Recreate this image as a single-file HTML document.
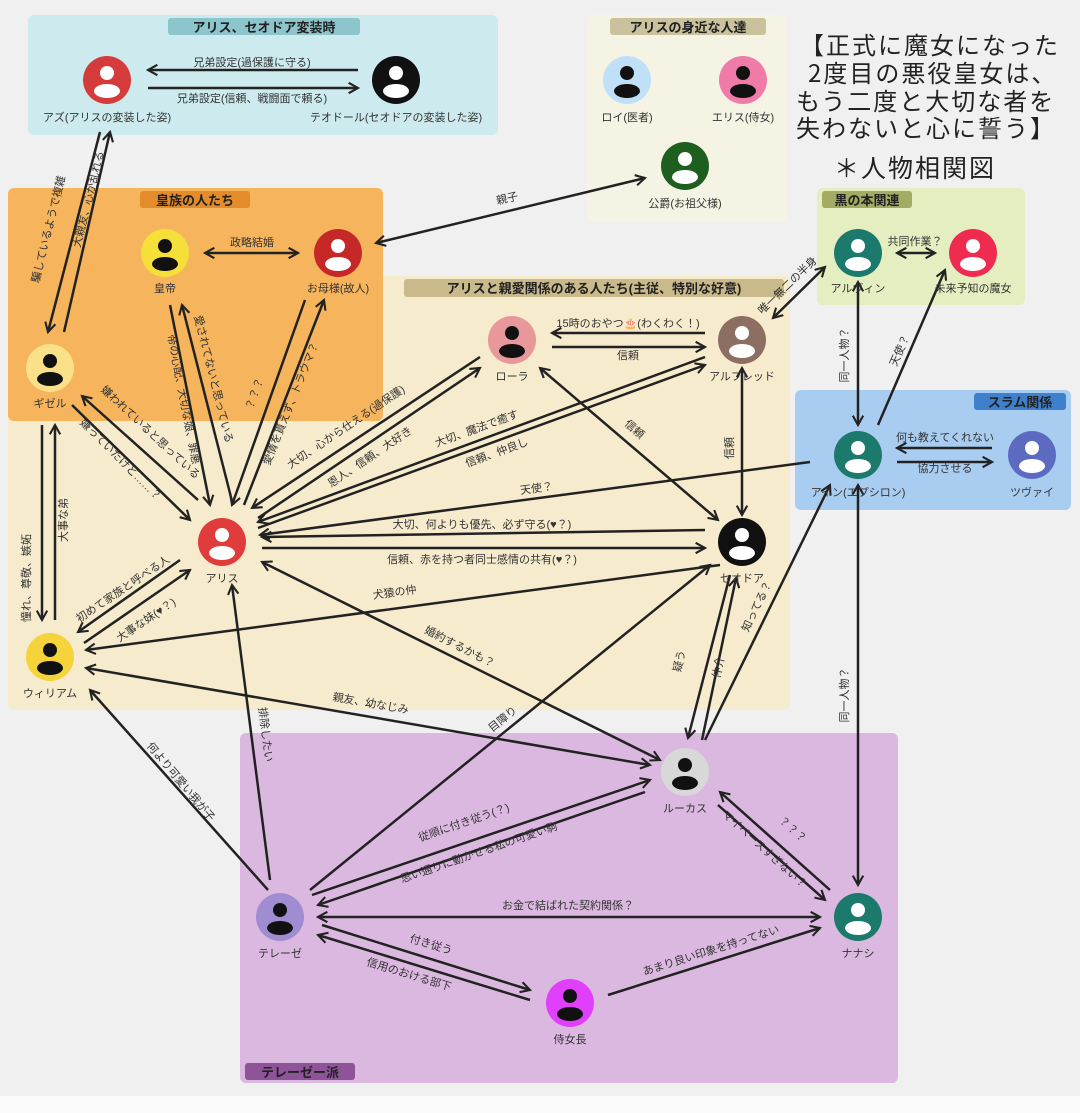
<!DOCTYPE html>
<html><head><meta charset="utf-8"><style>
html,body{margin:0;padding:0;background:#f0f0f0}
svg{display:block;font-family:"Liberation Sans","Noto Sans CJK JP",sans-serif}
.l{font-size:11px;fill:#333;text-anchor:middle}
.n{font-size:11px;fill:#333;text-anchor:middle}
.e{stroke:#222;stroke-width:2.5;fill:none}
.t{font-size:13px;font-weight:bold;fill:#222}
</style></head><body>
<svg width="1080" height="1113" viewBox="0 0 1080 1113" xmlns="http://www.w3.org/2000/svg">
<defs>
<marker id="a" viewBox="0 0 12 12" refX="10" refY="6" markerWidth="5" markerHeight="5" orient="auto-start-reverse" markerUnits="strokeWidth"><path d="M1,1 L10,6 L1,11" fill="none" stroke="#222" stroke-width="2"/></marker>
<clipPath id="c"><circle cx="0" cy="0" r="24"/></clipPath>
<g id="pb" clip-path="url(#c)"><circle cx="0" cy="-7" r="7" fill="#111"/><ellipse cx="0" cy="11" rx="13" ry="7" fill="#111"/></g>
<g id="pw" clip-path="url(#c)"><circle cx="0" cy="-7" r="7" fill="#fff"/><ellipse cx="0" cy="11" rx="13" ry="7" fill="#fff"/></g>
</defs>
<rect width="1080" height="1113" fill="#f0f0f0"/>
<rect x="0" y="1096" width="1080" height="17" fill="#fafafa"/>
<!-- boxes -->
<rect x="28" y="15" width="470" height="120" rx="6" fill="#cdebee"/>
<rect x="587" y="15" width="200" height="207" rx="6" fill="#f5f3e3"/>
<rect x="8" y="276" width="782" height="434" rx="6" fill="#f7ebcd"/>
<rect x="8" y="188" width="375" height="233" rx="6" fill="#f6b45d"/>
<rect x="817" y="188" width="208" height="117" rx="6" fill="#e4eec0"/>
<rect x="795" y="390" width="276" height="120" rx="6" fill="#a9cdf1"/>
<rect x="240" y="733" width="658" height="350" rx="6" fill="#dbb8e0"/>
<!-- box titles -->
<rect x="168" y="18" width="192" height="17" rx="3" fill="#8cc6cc"/><text x="264" y="32" class="t" text-anchor="middle">アリス、セオドア変装時</text>
<rect x="610" y="18" width="156" height="17" rx="3" fill="#c9c29c"/><text x="688" y="32" class="t" text-anchor="middle">アリスの身近な人達</text>
<rect x="140" y="191" width="110" height="17" rx="3" fill="#e58c2a"/><text x="195" y="205" class="t" text-anchor="middle">皇族の人たち</text>
<rect x="404" y="279" width="380" height="18" rx="3" fill="#c9b98b"/><text x="594" y="293" class="t" text-anchor="middle">アリスと親愛関係のある人たち(主従、特別な好意)</text>
<rect x="822" y="191" width="90" height="17" rx="3" fill="#a4ab63"/><text x="867" y="205" class="t" text-anchor="middle">黒の本関連</text>
<rect x="974" y="393" width="92" height="17" rx="3" fill="#3f80cc"/><text x="1020" y="407" class="t" text-anchor="middle">スラム関係</text>
<rect x="245" y="1063" width="110" height="17" rx="3" fill="#8f5399"/><text x="300" y="1077" class="t" text-anchor="middle">テレーゼー派</text>
<!-- headline -->
<g font-size="24" fill="#222" letter-spacing="2" font-family="'Noto Sans CJK JP',sans-serif">
<text x="800" y="54">【正式に魔女になった</text>
<text x="808" y="82">2度目の悪役皇女は、</text>
<text x="796" y="110">もう二度と大切な者を</text>
<text x="796" y="137">失わないと心に誓う】</text>
<text x="834" y="177" font-size="25">＊人物相関図</text>
</g>
<!-- edges -->
<g class="e">
<line x1="358" y1="70" x2="148" y2="70" marker-end="url(#a)"/>
<line x1="148" y1="88" x2="358" y2="88" marker-end="url(#a)"/>
<line x1="100" y1="132" x2="48" y2="332" marker-end="url(#a)"/>
<line x1="64" y1="332" x2="110" y2="132" marker-end="url(#a)"/>
<line x1="205" y1="253" x2="298" y2="253" marker-start="url(#a)" marker-end="url(#a)"/>
<line x1="376" y1="243" x2="645" y2="178" marker-start="url(#a)" marker-end="url(#a)"/>
<line x1="170" y1="305" x2="210" y2="505" marker-end="url(#a)"/>
<line x1="233" y1="505" x2="182" y2="305" marker-end="url(#a)"/>
<line x1="305" y1="300" x2="232" y2="505" marker-end="url(#a)"/>
<line x1="244" y1="505" x2="324" y2="300" marker-end="url(#a)"/>
<line x1="198" y1="500" x2="82" y2="396" marker-end="url(#a)"/>
<line x1="72" y1="405" x2="190" y2="520" marker-end="url(#a)"/>
<line x1="42" y1="425" x2="42" y2="620" marker-end="url(#a)"/>
<line x1="55" y1="620" x2="55" y2="425" marker-end="url(#a)"/>
<line x1="180" y1="560" x2="78" y2="632" marker-end="url(#a)"/>
<line x1="84" y1="643" x2="190" y2="570" marker-end="url(#a)"/>
<line x1="480" y1="357" x2="252" y2="508" marker-end="url(#a)"/>
<line x1="258" y1="518" x2="480" y2="368" marker-end="url(#a)"/>
<line x1="705" y1="357" x2="258" y2="522" marker-end="url(#a)"/>
<line x1="258" y1="528" x2="705" y2="365" marker-end="url(#a)"/>
<line x1="810" y1="462" x2="260" y2="535" marker-end="url(#a)"/>
<line x1="705" y1="530" x2="262" y2="537" marker-end="url(#a)"/>
<line x1="262" y1="548" x2="705" y2="548" marker-end="url(#a)"/>
<line x1="720" y1="565" x2="86" y2="650" marker-end="url(#a)"/>
<line x1="262" y1="562" x2="660" y2="760" marker-start="url(#a)" marker-end="url(#a)"/>
<line x1="86" y1="668" x2="650" y2="765" marker-start="url(#a)" marker-end="url(#a)"/>
<line x1="268" y1="890" x2="90" y2="690" marker-end="url(#a)"/>
<line x1="270" y1="880" x2="232" y2="585" marker-end="url(#a)"/>
<line x1="310" y1="890" x2="710" y2="565" marker-end="url(#a)"/>
<line x1="705" y1="333" x2="552" y2="333" marker-end="url(#a)"/>
<line x1="552" y1="347" x2="705" y2="347" marker-end="url(#a)"/>
<line x1="540" y1="368" x2="718" y2="520" marker-start="url(#a)" marker-end="url(#a)"/>
<line x1="742" y1="368" x2="742" y2="515" marker-start="url(#a)" marker-end="url(#a)"/>
<line x1="773" y1="318" x2="825" y2="267" marker-start="url(#a)" marker-end="url(#a)"/>
<line x1="897" y1="253" x2="935" y2="253" marker-start="url(#a)" marker-end="url(#a)"/>
<line x1="858" y1="282" x2="858" y2="425" marker-start="url(#a)" marker-end="url(#a)"/>
<line x1="878" y1="425" x2="945" y2="270" marker-end="url(#a)"/>
<line x1="992" y1="448" x2="897" y2="448" marker-end="url(#a)"/>
<line x1="897" y1="462" x2="992" y2="462" marker-end="url(#a)"/>
<line x1="858" y1="485" x2="858" y2="885" marker-start="url(#a)" marker-end="url(#a)"/>
<line x1="705" y1="740" x2="830" y2="485" marker-end="url(#a)"/>
<line x1="730" y1="575" x2="688" y2="738" marker-end="url(#a)"/>
<line x1="702" y1="740" x2="736" y2="578" marker-end="url(#a)"/>
<line x1="312" y1="895" x2="650" y2="780" marker-end="url(#a)"/>
<line x1="645" y1="792" x2="318" y2="905" marker-end="url(#a)"/>
<line x1="318" y1="917" x2="820" y2="917" marker-start="url(#a)" marker-end="url(#a)"/>
<line x1="830" y1="890" x2="720" y2="792" marker-end="url(#a)"/>
<line x1="718" y1="805" x2="825" y2="900" marker-end="url(#a)"/>
<line x1="322" y1="925" x2="530" y2="990" marker-end="url(#a)"/>
<line x1="530" y1="1000" x2="318" y2="935" marker-end="url(#a)"/>
<line x1="608" y1="995" x2="820" y2="928" marker-end="url(#a)"/>
</g>
<!-- edge labels -->
<g class="l">
<text x="252" y="66">兄弟設定(過保護に守る)</text>
<text x="252" y="102">兄弟設定(信頼、戦闘面で頼る)</text>
<text transform="translate(52,230) rotate(-76)">騙しているようで複雑</text>
<text transform="translate(92,200) rotate(-76)">大親友、心が乱れる</text>
<text x="252" y="246">政略結婚</text>
<text transform="translate(508,202) rotate(-13)">親子</text>
<text transform="translate(180,400) rotate(79)">帝の心配、大切な娘、罪悪</text>
<text transform="translate(210,380) rotate(76)">愛されてないと思っている</text>
<text transform="translate(258,395) rotate(-70)">？？？</text>
<text transform="translate(294,405) rotate(-68)">愛情を貰えず、トラウマ？</text>
<text transform="translate(148,435) rotate(43)">嫌われていると思っている</text>
<text transform="translate(118,462) rotate(45)">嫌っていたけど……？</text>
<text transform="translate(30,578) rotate(-90)">憧れ、尊敬、嫉妬</text>
<text transform="translate(67,520) rotate(-90)">大事な弟</text>
<text transform="translate(125,592) rotate(-34)">初めて家族と呼べる人</text>
<text transform="translate(148,623) rotate(-34)">大事な妹(♥？)</text>
<text transform="translate(348,430) rotate(-34)">大切、心から仕える(過保護)</text>
<text transform="translate(372,460) rotate(-34)">恩人、信頼、大好き</text>
<text transform="translate(478,432) rotate(-20)">大切、魔法で癒す</text>
<text transform="translate(498,456) rotate(-20)">信頼、仲良し</text>
<text transform="translate(537,492) rotate(-7.6)">天使？</text>
<text x="482" y="528">大切、何よりも優先、必ず守る(♥？)</text>
<text x="482" y="563">信頼、赤を持つ者同士感情の共有(♥？)</text>
<text transform="translate(395,596) rotate(-7.6)">犬猿の仲</text>
<text transform="translate(458,650) rotate(27)">婚約するかも？</text>
<text transform="translate(370,707) rotate(10)">親友、幼なじみ</text>
<text transform="translate(178,784) rotate(50)">何より可愛い我が子</text>
<text transform="translate(262,735) rotate(83)">排除したい</text>
<text transform="translate(505,722) rotate(-39)">目障り</text>
<text x="628" y="327">15時のおやつ🎂(わくわく！)</text>
<text x="628" y="359">信頼</text>
<text transform="translate(632,432) rotate(41)">信頼</text>
<text transform="translate(733,448) rotate(-90)">信頼</text>
<text transform="translate(790,288) rotate(-44)">唯一無二の半身</text>
<text x="915" y="245">共同作業？</text>
<text transform="translate(848,355) rotate(-90)">同一人物？</text>
<text transform="translate(903,352) rotate(-66)">天使？</text>
<text x="945" y="441">何も教えてくれない</text>
<text x="945" y="472">協力させる</text>
<text transform="translate(848,695) rotate(-90)">同一人物？</text>
<text transform="translate(760,608) rotate(-64)">知ってる？</text>
<text transform="translate(683,662) rotate(-76)">疑う</text>
<text transform="translate(722,668) rotate(-78)">仲介</text>
<text transform="translate(465,826) rotate(-19)">従順に付き従う(？)</text>
<text transform="translate(480,856) rotate(-19)">思い通りに動かせる私の可愛い駒</text>
<text x="568" y="909">お金で結ばれた契約関係？</text>
<text transform="translate(790,832) rotate(42)">？？？</text>
<text transform="translate(762,852) rotate(42)">マイペースすぎない？</text>
<text transform="translate(430,948) rotate(17)">付き従う</text>
<text transform="translate(408,978) rotate(17)">信用のおける部下</text>
<text transform="translate(712,954) rotate(-17.5)">あまり良い印象を持ってない</text>
</g>
<!-- nodes -->
<g>
<circle cx="107" cy="80" r="24" fill="#d63b3b"/><use href="#pw" x="107" y="80"/><text class="n" x="107" y="121">アズ(アリスの変装した姿)</text>
<circle cx="396" cy="80" r="24" fill="#111"/><use href="#pw" x="396" y="80"/><text class="n" x="396" y="121">テオドール(セオドアの変装した姿)</text>
<circle cx="627" cy="80" r="24" fill="#bfe0f7"/><use href="#pb" x="627" y="80"/><text class="n" x="627" y="121">ロイ(医者)</text>
<circle cx="743" cy="80" r="24" fill="#f07aa8"/><use href="#pb" x="743" y="80"/><text class="n" x="743" y="121">エリス(侍女)</text>
<circle cx="685" cy="166" r="24" fill="#1e5e1e"/><use href="#pw" x="685" y="166"/><text class="n" x="685" y="207">公爵(お祖父様)</text>
<circle cx="165" cy="253" r="24" fill="#f5e03a"/><use href="#pb" x="165" y="253"/><text class="n" x="165" y="292">皇帝</text>
<circle cx="338" cy="253" r="24" fill="#c62828"/><use href="#pw" x="338" y="253"/><text class="n" x="338" y="292">お母様(故人)</text>
<circle cx="858" cy="253" r="24" fill="#1b7a6b"/><use href="#pw" x="858" y="253"/><text class="n" x="858" y="292">アルヴィン</text>
<circle cx="973" cy="253" r="24" fill="#ef2b50"/><use href="#pw" x="973" y="253"/><text class="n" x="973" y="292">未来予知の魔女</text>
<circle cx="50" cy="368" r="24" fill="#fbe08a"/><use href="#pb" x="50" y="368"/><text class="n" x="50" y="407">ギゼル</text>
<circle cx="512" cy="340" r="24" fill="#e8979b"/><use href="#pb" x="512" y="340"/><text class="n" x="512" y="380">ローラ</text>
<circle cx="742" cy="340" r="24" fill="#8d6e63"/><use href="#pw" x="742" y="340"/><text class="n" x="742" y="380">アルフレッド</text>
<circle cx="858" cy="455" r="24" fill="#1b7a6b"/><use href="#pw" x="858" y="455"/><text class="n" x="858" y="496">アイン(エプシロン)</text>
<circle cx="1032" cy="455" r="24" fill="#5c6bc0"/><use href="#pw" x="1032" y="455"/><text class="n" x="1032" y="496">ツヴァイ</text>
<circle cx="222" cy="542" r="24" fill="#e03c3c"/><use href="#pw" x="222" y="542"/><text class="n" x="222" y="582">アリス</text>
<circle cx="742" cy="542" r="24" fill="#111"/><use href="#pw" x="742" y="542"/><text class="n" x="742" y="582">セオドア</text>
<circle cx="50" cy="657" r="24" fill="#f5d33a"/><use href="#pb" x="50" y="657"/><text class="n" x="50" y="697">ウィリアム</text>
<circle cx="685" cy="772" r="24" fill="#d8d8d8"/><use href="#pb" x="685" y="772"/><text class="n" x="685" y="812">ルーカス</text>
<circle cx="280" cy="917" r="24" fill="#a08cd0"/><use href="#pb" x="280" y="917"/><text class="n" x="280" y="957">テレーゼ</text>
<circle cx="858" cy="917" r="24" fill="#1b7a6b"/><use href="#pw" x="858" y="917"/><text class="n" x="858" y="957">ナナシ</text>
<circle cx="570" cy="1003" r="24" fill="#e040fb"/><use href="#pb" x="570" y="1003"/><text class="n" x="570" y="1043">侍女長</text>
</g>
</svg>
</body></html>
